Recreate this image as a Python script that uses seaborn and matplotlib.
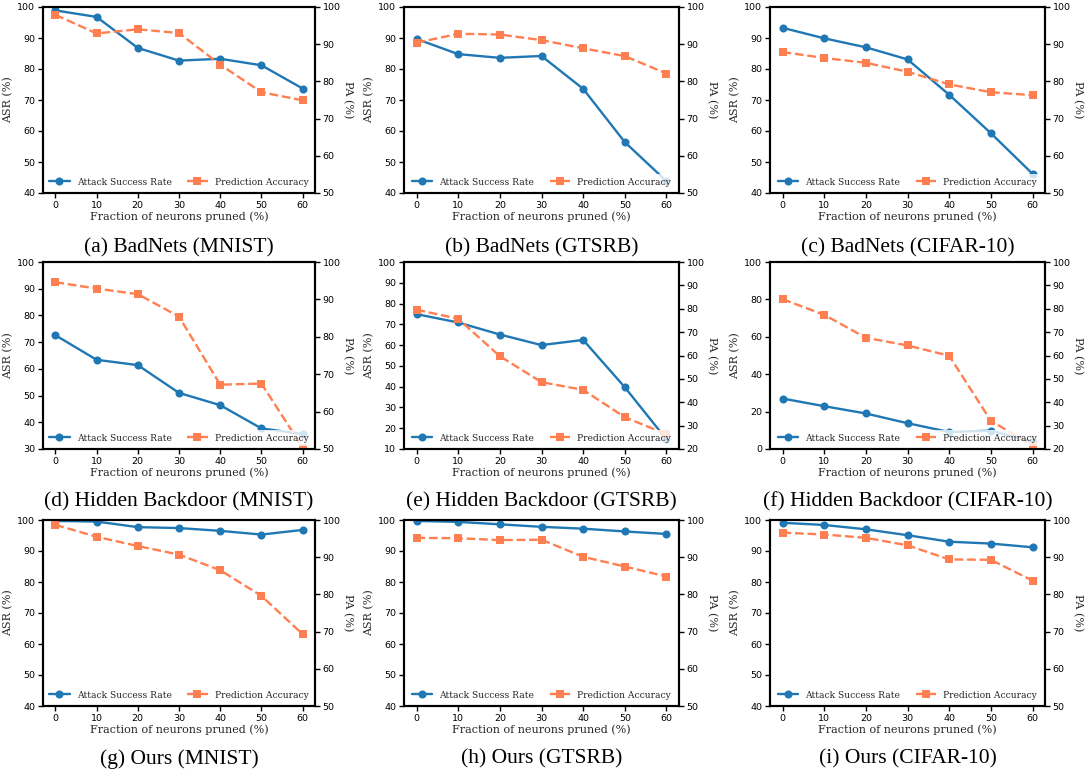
import matplotlib
matplotlib.use("Agg")
import matplotlib.pyplot as plt
import seaborn as sns

# Fraction of neurons pruned (%)
pruned = [0, 10, 20, 30, 40, 50, 60]

# Attack success rate (ASR, %) and prediction accuracy (PA, %) per setting
asr_badnets_mnist = [98.9, 96.8, 86.8, 82.7, 83.3, 81.2, 73.7]
pa_badnets_mnist = [97.9, 92.9, 94.0, 93.0, 84.5, 77.1, 74.9]

asr_badnets_gtsrb = [89.7, 84.8, 83.6, 84.2, 73.6, 56.4, 43.8]
pa_badnets_gtsrb = [90.4, 92.8, 92.6, 91.1, 88.9, 86.8, 82.1]

asr_badnets_cifar = [93.3, 89.9, 87.0, 83.1, 71.7, 59.3, 46.2]
pa_badnets_cifar = [87.9, 86.3, 85.0, 82.6, 79.2, 77.1, 76.3]

asr_hidden_mnist = [72.6, 63.4, 61.4, 51.0, 46.4, 37.7, 35.6]
pa_hidden_mnist = [94.6, 92.9, 91.4, 85.4, 67.2, 67.5, 50.4]

asr_hidden_gtsrb = [74.9, 70.9, 65.1, 60.0, 62.5, 39.7, 14.6]
pa_hidden_gtsrb = [79.6, 75.7, 59.7, 48.6, 45.3, 33.6, 26.3]

asr_hidden_cifar = [27.0, 22.9, 19.0, 13.8, 9.1, 9.8, 3.9]
pa_hidden_cifar = [84.1, 77.4, 67.6, 64.3, 59.9, 32.1, 21.4]

asr_ours_mnist = [99.7, 99.5, 97.7, 97.4, 96.5, 95.3, 96.8]
pa_ours_mnist = [98.7, 95.5, 93.0, 90.7, 86.5, 79.6, 69.3]

asr_ours_gtsrb = [99.7, 99.4, 98.6, 97.8, 97.2, 96.3, 95.5]
pa_ours_gtsrb = [95.2, 95.1, 94.6, 94.7, 90.1, 87.5, 84.8]

asr_ours_cifar = [99.1, 98.4, 97.0, 95.1, 93.0, 92.4, 91.2]
pa_ours_cifar = [96.6, 96.1, 95.2, 93.2, 89.4, 89.3, 83.7]

captions = [
    "(a) BadNets (MNIST)", "(b) BadNets (GTSRB)", "(c) BadNets (CIFAR-10)",
    "(d) Hidden Backdoor (MNIST)", "(e) Hidden Backdoor (GTSRB)", "(f) Hidden Backdoor (CIFAR-10)",
    "(g) Ours (MNIST)", "(h) Ours (GTSRB)", "(i) Ours (CIFAR-10)",
]

asr_series = [asr_badnets_mnist, asr_badnets_gtsrb, asr_badnets_cifar,
              asr_hidden_mnist, asr_hidden_gtsrb, asr_hidden_cifar,
              asr_ours_mnist, asr_ours_gtsrb, asr_ours_cifar]
pa_series = [pa_badnets_mnist, pa_badnets_gtsrb, pa_badnets_cifar,
             pa_hidden_mnist, pa_hidden_gtsrb, pa_hidden_cifar,
             pa_ours_mnist, pa_ours_gtsrb, pa_ours_cifar]

# Axis ranges: (min, max, step)
asr_axes = [(40, 100, 10), (40, 100, 10), (40, 100, 10),
            (30, 100, 10), (10, 100, 10), (0, 100, 20),
            (40, 100, 10), (40, 100, 10), (40, 100, 10)]
pa_axes = [(50, 100, 10), (50, 100, 10), (50, 100, 10),
           (50, 100, 10), (20, 100, 10), (20, 100, 10),
           (50, 100, 10), (50, 100, 10), (50, 100, 10)]

BLUE = "#1f77b4"
CORAL = "#ff7f50"

sns.set_style("ticks")
plt.rcParams.update({
    "font.family": ["DejaVu Sans"],
    "xtick.direction": "out",
    "ytick.direction": "out",
    "xtick.major.size": 3.5,
    "ytick.major.size": 3.5,
    "xtick.major.width": 1.0,
    "ytick.major.width": 1.0,
    "xtick.color": "black",
    "ytick.color": "black",
    "axes.edgecolor": "black",
    "axes.linewidth": 1.5,
})

W, H = 1085, 774
fig = plt.figure(figsize=(W / 100, H / 100), dpi=100)

col_px = [(43, 315), (404, 679), (770, 1045)]
row_px = [(7, 193), (262, 449), (520, 706)]
caption_y = [248, 502, 759]

label_font = {"family": "DejaVu Serif", "size": 8}
legend_font = {"family": "DejaVu Serif", "size": 6.6}

for i in range(9):
    r, c = divmod(i, 3)
    x0, x1 = col_px[c]
    y0, y1 = row_px[r]
    ax = fig.add_axes([x0 / W, 1 - y1 / H, (x1 - x0) / W, (y1 - y0) / H])
    ax2 = ax.twinx()

    sns.lineplot(x=pruned, y=asr_series[i], ax=ax, color=BLUE, marker="o",
                 markersize=5.8, markeredgewidth=0, linewidth=1.7, legend=False)
    sns.lineplot(x=pruned, y=pa_series[i], ax=ax2, color=CORAL, marker="s",
                 markersize=5.4, markeredgewidth=0, linewidth=1.7,
                 linestyle="--", legend=False)

    lo, hi, st = asr_axes[i]
    ax.set_ylim(lo, hi)
    ax.set_yticks(range(lo, hi + 1, st))
    plo, phi, pst = pa_axes[i]
    ax2.set_ylim(plo, phi)
    ax2.set_yticks(range(plo, phi + 1, pst))
    ax.set_xticks(pruned)

    for a in (ax, ax2):
        a.tick_params(labelsize=6.8, pad=2)
        for sp in a.spines.values():
            sp.set_visible(True)
            sp.set_linewidth(1.5)
            sp.set_color("black")

    ax.set_xlabel("Fraction of neurons pruned (%)", fontdict=label_font, labelpad=1)
    ax.set_ylabel("ASR (%)", fontdict=label_font, labelpad=3)
    ax2.set_ylabel("PA (%)", fontdict=label_font, rotation=270, labelpad=9)

    handles = [ax.lines[-1], ax2.lines[-1]]
    ax2.legend(handles, ["Attack Success Rate", "Prediction Accuracy"],
               loc="lower center", ncol=2, prop=legend_font, frameon=True,
               framealpha=0.8, edgecolor="none", fancybox=False,
               columnspacing=1.7, handlelength=2.2, borderaxespad=0.3)

    fig.text((x0 + x1) / 2 / W, 1 - caption_y[r] / H, captions[i],
             ha="center", va="center", family="Liberation Serif", size=15.5,
             color="black")

fig.savefig("out.png", dpi=100)
